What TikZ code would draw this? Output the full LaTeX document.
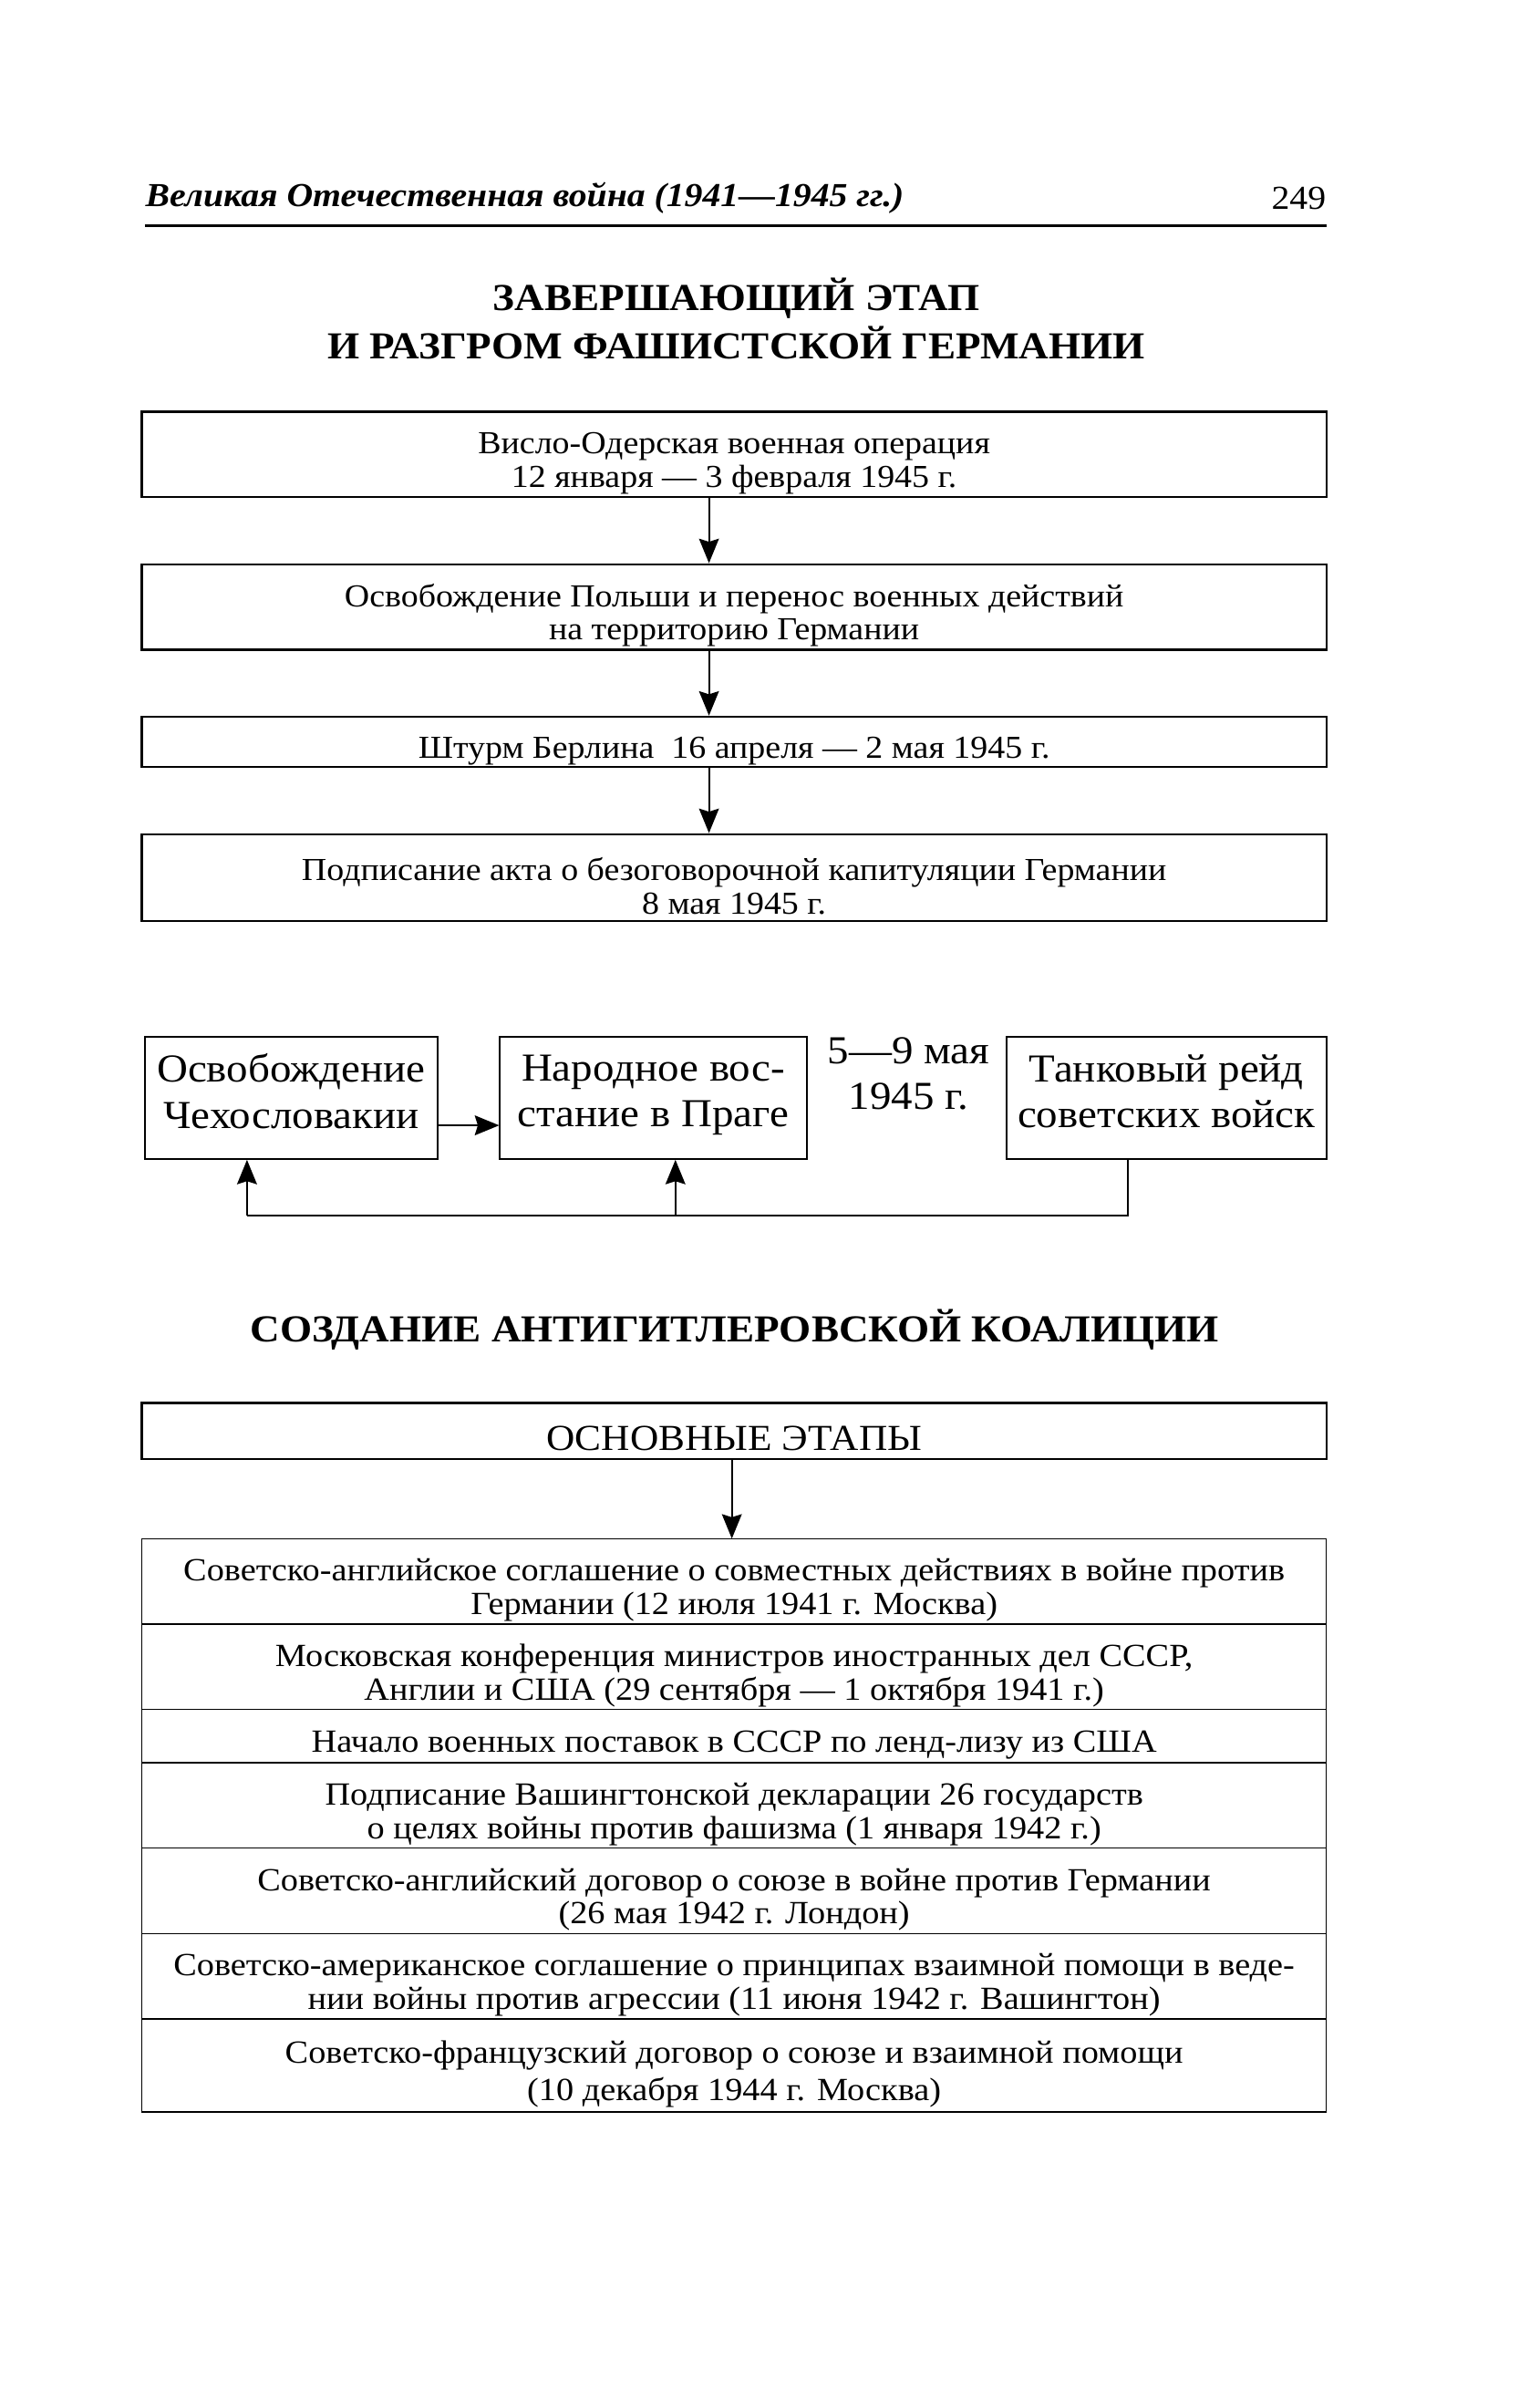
\documentclass[tikz,border=0pt]{standalone}
\usepackage{fontspec}
\setmainfont{Liberation Serif}[FakeStretch=1.08]
\usetikzlibrary{arrows.meta,positioning}
\newcommand{\boxlift}{\rule{0pt}{13pt}}
\tikzset{
  pagepicture/.style={x=0.5pt, y=-0.5pt, node distance=0pt},
  stagebox/.style={draw, line width=0.7pt, inner sep=0pt, align=center, minimum width=388.5pt, font=\fontsize{10.5}{11}\selectfont},
  rowbox/.style={draw, line width=0.4pt, inner sep=0pt, outer sep=0pt, align=center, minimum width=388.5pt, font=\fontsize{10.6}{11}\selectfont},
  pragbox/.style={draw, line width=0.6pt, inner sep=0pt, align=center, minimum height=40pt, font=\fontsize{13}{15}\selectfont, execute at end node={\strut}},
  headtitle/.style={align=center, font=\bfseries\fontsize{12.5}{16}\selectfont},
  stagearrow/.style={-{Stealth[length=8pt,width=6.5pt,inset=1pt]}, line width=0.6pt}
}
\begin{document}
\begin{tikzpicture}[pagepicture]
\useasboundingbox (0,0) rectangle (1010,1568);
% page head
\node[anchor=west, inner sep=0pt, font=\bfseries\itshape\fontsize{11}{13}\selectfont] (runhead) at (95,130) {Великая Отечественная война (1941—1945 гг.)};
\node[anchor=east, inner sep=0pt, font=\fontsize{11}{13}\selectfont] (pageno) at (870,130) {249};
\coordinate (ruleL) at (95,148);
\coordinate (ruleR) at (870,148);
\draw[line width=0.8pt] (ruleL) -- (ruleR);

% final stage
\node[headtitle] (title1) at (483,209) {ЗАВЕРШАЮЩИЙ ЭТАП\\И РАЗГРОМ ФАШИСТСКОЙ ГЕРМАНИИ};
\node[stagebox, minimum height=28pt] (vislo) at (481.5,298) {\boxlift Висло-Одерская военная операция\\12 января — 3 февраля 1945 г.};
\node[stagebox, minimum height=28pt] (poland) at (481.5,398) {\boxlift Освобождение Польши и перенос военных действий\\на территорию Германии};
\node[stagebox, minimum height=16.5pt] (berlin) at (481.5,486.5) {\boxlift Штурм Берлина\ \ 16 апреля — 2 мая 1945 г.};
\node[stagebox, minimum height=28.5pt] (surrender) at (481.5,575.5) {\boxlift Подписание акта о безоговорочной капитуляции Германии\\8 мая 1945 г.};
\coordinate (ax) at (465,0);
\draw[stagearrow] (vislo.south -| ax) -- (poland.north -| ax);
\draw[stagearrow] (poland.south -| ax) -- (berlin.north -| ax);
\draw[stagearrow] (berlin.south -| ax) -- (surrender.north -| ax);

% Prague
\node[pragbox, minimum width=96pt] (czech) at (191,720) {Освобождение\\Чехословакии};
\node[pragbox, minimum width=100.5pt] (prague) at (428.5,720) {Народное вос-\\стание в Праге};
\node[align=center, inner sep=0pt, font=\fontsize{13}{15}\selectfont] (maydate) at (596,704) {5—9 мая\\1945 г.};
\node[pragbox, minimum width=105pt] (tanks) at (765,720) {Танковый рейд\\советских войск};
\coordinate (ay) at (0,738);
\draw[stagearrow] (czech.east |- ay) -- (prague.west |- ay);
\coordinate (loopR) at (740,797);
\coordinate (loopL) at (162,797);
\coordinate (loopM) at (443,797);
\draw[line width=0.6pt] (tanks.south -| loopR) -- (loopR) -- (loopL);
\draw[stagearrow] (loopL) -- (czech.south -| loopL);
\draw[stagearrow] (loopM) -- (prague.south -| loopM);

% coalition
\node[headtitle] (title2) at (482,872) {СОЗДАНИЕ АНТИГИТЛЕРОВСКОЙ КОАЛИЦИИ};
\node[stagebox, minimum height=18.5pt, font=\fontsize{12}{13}\selectfont] (stages) at (481.5,938.5) {\boxlift ОСНОВНЫЕ ЭТАПЫ};
\node[rowbox, minimum height=28pt] (r1) at (481.5,1037) {\boxlift Советско-английское соглашение о совместных действиях в войне против\\Германии (12 июля 1941 г. Москва)};
\node[rowbox, minimum height=28pt, below=of r1] (r2) {\boxlift Московская конференция министров иностранных дел СССР,\\Англии и США (29 сентября — 1 октября 1941 г.)};
\node[rowbox, minimum height=17.5pt, below=of r2] (r3) {\boxlift Начало военных поставок в СССР по ленд-лизу из США};
\node[rowbox, minimum height=28pt, below=of r3] (r4) {\boxlift Подписание Вашингтонской декларации 26 государств\\о целях войны против фашизма (1 января 1942 г.)};
\node[rowbox, minimum height=28pt, below=of r4] (r5) {\boxlift Советско-английский договор о союзе в войне против Германии\\(26 мая 1942 г. Лондон)};
\node[rowbox, minimum height=28pt, below=of r5] (r6) {\boxlift Советско-американское соглашение о принципах взаимной помощи в веде-\\нии войны против агрессии (11 июня 1942 г. Вашингтон)};
\node[rowbox, minimum height=30.5pt, below=of r6, font=\fontsize{10.6}{12.5}\selectfont] (r7) {\boxlift Советско-французский договор о союзе и взаимной помощи\\(10 декабря 1944 г. Москва)};
\coordinate (bx) at (480,0);
\draw[stagearrow] (stages.south -| bx) -- (r1.north -| bx);
\end{tikzpicture}
\end{document}
